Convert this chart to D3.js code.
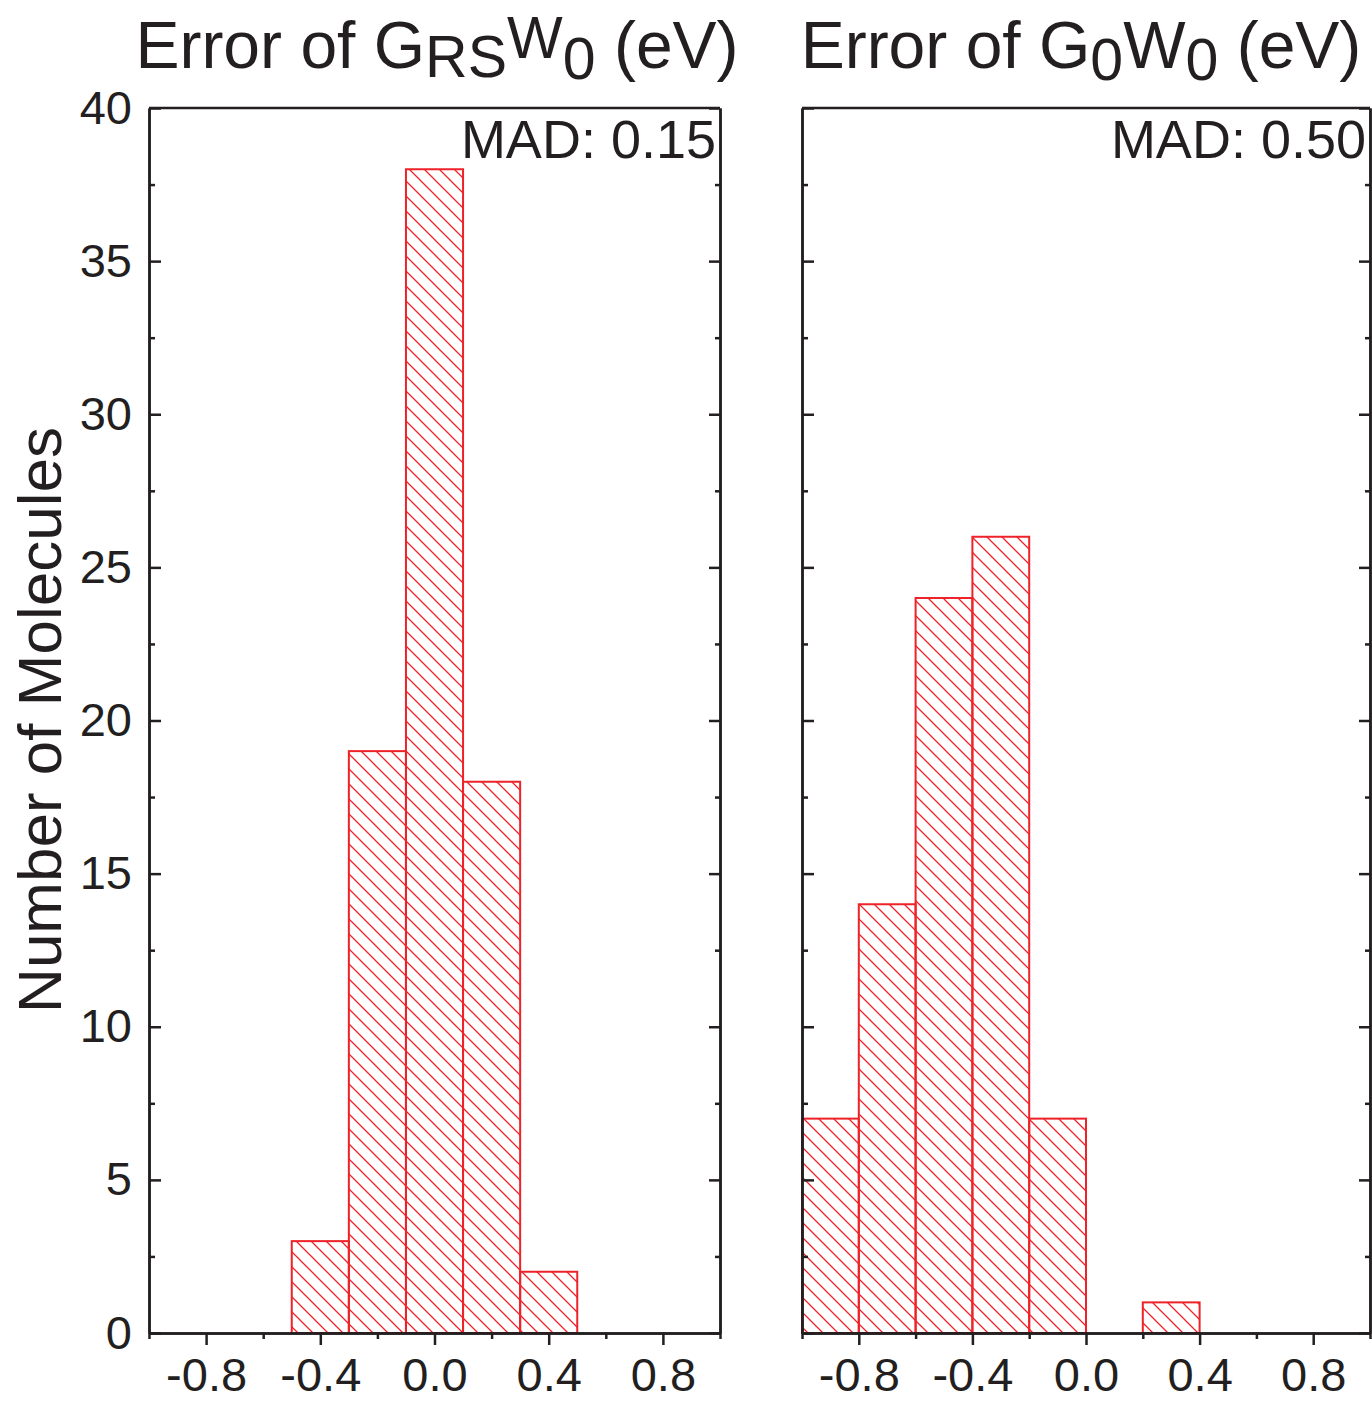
<!DOCTYPE html>
<html>
<head>
<meta charset="utf-8">
<script src="https://d3js.org/d3.v7.min.js"></script>
<style>
  body { margin: 0; background: #fff; }
  text { font-family: "Liberation Sans", Arial, sans-serif; fill: #231f20; }
</style>
</head>
<body>
<div id="my_dataviz"></div>
<script>
// histogram data (bin start, count), bin width 0.2 eV
var binStartRS = [-0.5, -0.3, -0.1, 0.1, 0.3];
var countRS    = [3, 19, 38, 18, 2];
var binStartG0 = [-1.0, -0.8, -0.6, -0.4, -0.2, 0.0, 0.2];
var countG0    = [7, 14, 24, 26, 7, 0, 1];
var binWidth = 0.2;

var xMajor = [-0.8, -0.4, 0.0, 0.4, 0.8];
var xMinor = [-1.0, -0.6, -0.2, 0.2, 0.6, 1.0];
var yMajor = [0, 5, 10, 15, 20, 25, 30, 35, 40];
var yMinor = [2.5, 7.5, 12.5, 17.5, 22.5, 27.5, 32.5, 37.5];

var madLabels = ["MAD: 0.15", "MAD: 0.50"];

var W = 1372, H = 1401;
var red = "#ee2229", ink = "#231f20";

var svg = d3.select("#my_dataviz")
  .append("svg")
  .attr("width", W)
  .attr("height", H);

var defs = svg.append("defs");
var pat = defs.append("pattern")
  .attr("id", "hatch")
  .attr("patternUnits", "userSpaceOnUse")
  .attr("width", 15).attr("height", 15);
pat.append("path")
  .attr("d", "M0,0 L15,15 M-2,13 L2,17 M13,-2 L17,2")
  .attr("stroke", red)
  .attr("stroke-width", 1.3)
  .attr("fill", "none");

var y = d3.scaleLinear().domain([0, 40]).range([1333, 108]);
var fmtX = function(d) { return d3.format(".1f")(d).replace("\u2212", "-"); };

var panels = [
  {x0: 149, x1: 720, starts: binStartRS, counts: countRS, mad: madLabels[0], left: true},
  {x0: 802, x1: 1370, starts: binStartG0, counts: countG0, mad: madLabels[1], left: false}
];

panels.forEach(function(p) {
  var x = d3.scaleLinear().domain([-1, 1]).range([p.x0, p.x1]);
  var g = svg.append("g");

  var bins = p.starts.map(function(s, i) { return {s: s, c: p.counts[i]}; })
    .filter(function(d) { return d.c > 0; });

  g.selectAll("rect.bar")
    .data(bins).enter().append("rect")
    .attr("class", "bar")
    .attr("x", function(d) { return x(d.s); })
    .attr("width", function(d) { return x(d.s + binWidth) - x(d.s); })
    .attr("y", function(d) { return y(d.c); })
    .attr("height", function(d) { return y(0) - y(d.c); })
    .attr("fill", "url(#hatch)")
    .attr("stroke", red)
    .attr("stroke-width", 2);

  // bottom axis, major + minor ticks outward
  var bx = g.append("g").attr("transform", "translate(0," + y(0) + ")")
    .call(d3.axisBottom(x).tickValues(xMajor).tickSize(12).tickSizeOuter(0).tickPadding(13)
      .tickFormat(fmtX));
  var bxm = g.append("g").attr("transform", "translate(0," + y(0) + ")")
    .call(d3.axisBottom(x).tickValues(xMinor).tickSize(6).tickSizeOuter(0).tickFormat(""));

  // left axis, ticks inward
  var ly = g.append("g").attr("transform", "translate(" + p.x0 + ",0)")
    .call(d3.axisLeft(y).tickValues(yMajor).tickSize(-12).tickSizeOuter(0).tickPadding(17)
      .tickFormat(p.left ? d3.format("d") : ""));
  var lym = g.append("g").attr("transform", "translate(" + p.x0 + ",0)")
    .call(d3.axisLeft(y).tickValues(yMinor).tickSize(-6).tickSizeOuter(0).tickFormat(""));

  // right axis, ticks inward
  var ry = g.append("g").attr("transform", "translate(" + p.x1 + ",0)")
    .call(d3.axisRight(y).tickValues(yMajor).tickSize(-11).tickSizeOuter(0).tickFormat(""));
  var rym = g.append("g").attr("transform", "translate(" + p.x1 + ",0)")
    .call(d3.axisRight(y).tickValues(yMinor).tickSize(-5).tickSizeOuter(0).tickFormat(""));

  // top border
  g.append("line")
    .attr("x1", p.x0).attr("x2", p.x1)
    .attr("y1", y(40)).attr("y2", y(40))
    .attr("stroke", ink).attr("stroke-width", 2.5);

  [bx, bxm, ly, lym, ry, rym].forEach(function(a) {
    a.select(".domain").attr("stroke", ink).attr("stroke-width", 2.5);
    a.selectAll(".tick line").attr("stroke", ink).attr("stroke-width", 2.5);
    a.selectAll(".tick text").style("font-size", "47px")
      .style("font-family", "'Liberation Sans', Arial, sans-serif").attr("fill", ink);
  });

  g.append("text")
    .attr("x", p.x1 - 4)
    .attr("y", 158)
    .attr("text-anchor", "end")
    .style("font-size", "54px")
    .text(p.mad);
});

// titles
var t1 = svg.append("text")
  .attr("x", 437).attr("y", 68)
  .attr("text-anchor", "middle")
  .style("font-size", "66px");
t1.append("tspan").text("Error of G");
t1.append("tspan").attr("dy", 9).style("font-size", "59px").text("RS");
t1.append("tspan").attr("dy", -19).style("font-size", "59px").text("W");
t1.append("tspan").attr("dy", 21).style("font-size", "59px").text("0");
t1.append("tspan").attr("dy", -11).text(" (eV)");

var t2 = svg.append("text")
  .attr("x", 1081).attr("y", 68)
  .attr("text-anchor", "middle")
  .style("font-size", "66px");
t2.append("tspan").text("Error of G");
t2.append("tspan").attr("dy", 12).style("font-size", "59px").text("0");
t2.append("tspan").attr("dy", -12).text("W");
t2.append("tspan").attr("dy", 12).style("font-size", "59px").text("0");
t2.append("tspan").attr("dy", -12).text(" (eV)");

// y axis label
svg.append("text")
  .attr("transform", "translate(61,720) rotate(-90)")
  .attr("text-anchor", "middle")
  .style("font-size", "62px")
  .text("Number of Molecules");
</script>
</body>
</html>
